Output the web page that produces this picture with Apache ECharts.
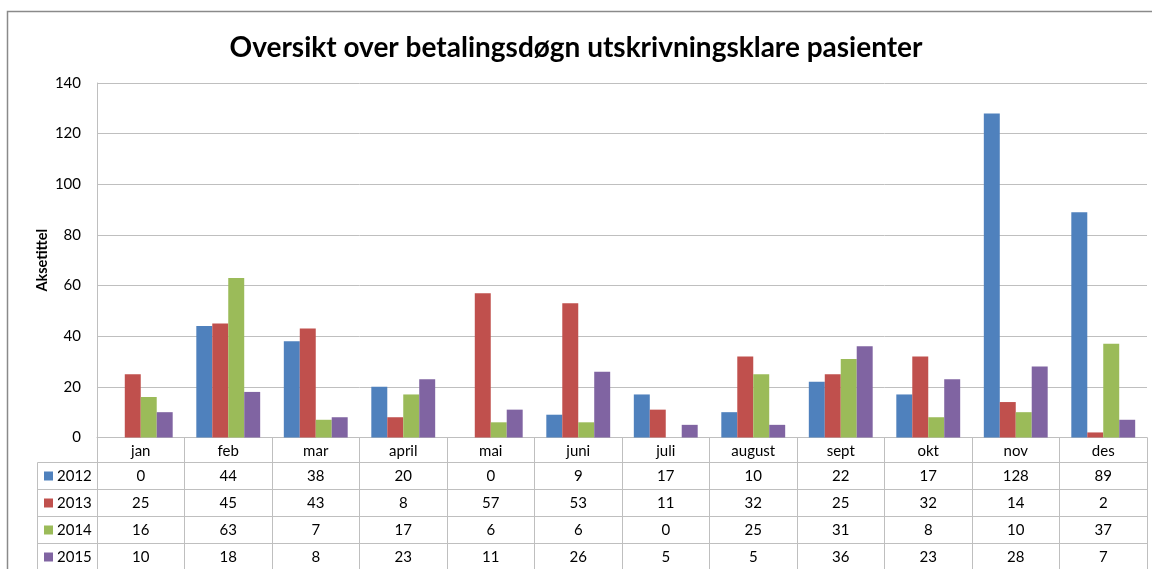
<!DOCTYPE html>
<html><head><meta charset="utf-8">
<script src="https://cdn.jsdelivr.net/npm/echarts@6/dist/echarts.min.js"></script>
<style>html,body{margin:0;padding:0;background:#fff}#c{width:1152px;height:569px}</style>
</head><body><div id="c"></div>
<script>
const months = ['jan','feb','mar','april','mai','juni','juli','august','sept','okt','nov','des'];
const years = ['2012','2013','2014','2015'];
const v2012 = [0,44,38,20,0,9,17,10,22,17,128,89];
const v2013 = [25,45,43,8,57,53,11,32,25,32,14,2];
const v2014 = [16,63,7,17,6,6,0,25,31,8,10,37];
const v2015 = [10,18,8,23,11,26,5,5,36,23,28,7];
const colors = ['#4F81BD','#C0504D','#9BBB59','#8064A2'];
const seriesVals = [v2012,v2013,v2014,v2015];

const FONT = 'Lato, "Liberation Sans", sans-serif';
const gridColor = '#bfbfbf';
const rowOffsets = [25, 52, 79, 106];
const gridLeft = 97, gridTop = 83, gridBottomY = 437.5;
const LBL = 15;

const xAxes = [{
  type:'category', data: months, gridIndex:0, position:'bottom',
  axisLine:{show:true, lineStyle:{color:gridColor, width:1}},
  axisTick:{show:true, interval:0, length:132, lineStyle:{color:gridColor}},
  axisLabel:{fontFamily:FONT, fontSize:LBL, color:'#000', margin:6, interval:0}
}];
rowOffsets.forEach((off,k)=>{
  xAxes.push({
    type:'category', data: months, gridIndex:0, position:'bottom', offset: off,
    axisLine:{show:true, lineStyle:{color:gridColor, width:1}},
    axisTick:{show:false},
    axisLabel:{fontFamily:FONT, fontSize:LBL, color:'#000', margin:6, interval:0,
      formatter:(val, idx)=> String(seriesVals[k][idx])}
  });
});

const graphics = [
  {type:'rect', shape:{x:7.5, y:11.5, width:1300, height:700}, style:{fill:'none', stroke:'#8a8a8a', lineWidth:1.5}, silent:true},
  {type:'line', shape:{x1:37.5, y1:gridBottomY+rowOffsets[0], x2:37.5, y2:580}, style:{stroke:gridColor, lineWidth:1}}
];
rowOffsets.forEach((off,k)=>{
  const y = gridBottomY + off;
  graphics.push({type:'line', shape:{x1:37.5, y1:y, x2:gridLeft, y2:y}, style:{stroke:gridColor, lineWidth:1}});
  const next = (k<3? gridBottomY+rowOffsets[k+1] : y+27);
  const cy = (y+next)/2;
  graphics.push({type:'rect', shape:{x:44, y:cy-4.5, width:9, height:9}, style:{fill:colors[k]}});
  graphics.push({type:'text', x:57, y:cy, style:{text:years[k], fontFamily:FONT, fontSize:LBL, fill:'#000', verticalAlign:'middle', align:'left'}});
});

const option = {
  animation:false,
  backgroundColor:'#fff',
  title:{text:'Oversikt over betalingsdøgn utskrivningsklare pasienter', left:'center', top:29,
    textStyle:{fontFamily:FONT, fontSize:28, fontWeight:'bold', color:'#000'}},
  grid:{left:gridLeft, right:5, top:gridTop, bottom:569-gridBottomY, containLabel:false},
  xAxis: xAxes,
  yAxis:{type:'value', min:0, max:140, interval:20,
    name:'Aksetittel', nameLocation:'middle', nameGap:47, nameRotate:90, nameMoveOverlap:false,
    nameTextStyle:{fontFamily:FONT, fontSize:14.5, fontWeight:'bold', color:'#000'},
    axisLine:{show:true, lineStyle:{color:gridColor}},
    axisTick:{show:false},
    axisLabel:{fontFamily:FONT, fontSize:LBL, color:'#000', margin:16},
    splitLine:{show:true, lineStyle:{color:gridColor, width:1}}
  },
  series: years.map((y,k)=>({
    name:y, type:'bar', xAxisIndex:0, data: seriesVals[k],
    barGap:'0%', barCategoryGap:'27%',
    itemStyle:{color:colors[k]}
  })),
  graphic: graphics
};
const chart = echarts.init(document.getElementById('c'), null, {renderer:'canvas'});
chart.setOption(option);
</script></body></html>
